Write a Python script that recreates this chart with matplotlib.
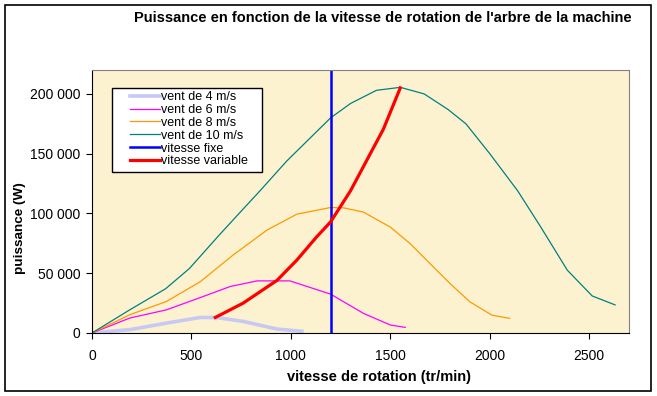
import matplotlib.pyplot as plt
from matplotlib.patches import Rectangle
from matplotlib.ticker import FuncFormatter

plt.rcParams['font.family'] = ['Liberation Sans', 'DejaVu Sans']

# Courbes (tr/min, W)
rpm_4 = [0, 190, 375, 545, 625, 760, 930, 1055]
p_4 = [0, 2800, 8300, 13000, 13000, 9700, 3300, 1400]

rpm_6 = [0, 190, 375, 560, 695, 830, 995, 1200, 1365, 1500, 1575]
p_6 = [0, 12500, 19400, 30600, 38900, 43600, 43600, 32500, 16400, 6700, 4700]

rpm_8 = [0, 190, 375, 545, 710, 880, 1030, 1200, 1265, 1365, 1500, 1600, 1700, 1800, 1900, 2010, 2100]
p_8 = [0, 15300, 26400, 43000, 65300, 86100, 99400, 105000, 104700, 101100, 88600, 74700,
       58000, 41400, 26100, 15000, 12200]

rpm_10 = [0, 190, 370, 490, 640, 745, 845, 980, 1200, 1300, 1430, 1550, 1670, 1790, 1880,
          2000, 2140, 2255, 2390, 2515, 2630]
p_10 = [0, 19400, 37000, 54000, 82000, 101000, 119000, 144000, 180000, 192000, 203000, 205500,
        200000, 187000, 175000, 150000, 119000, 89000, 52500, 31000, 23500]

rpm_var = [620, 760, 930, 1030, 1130, 1200, 1300, 1380, 1465, 1550]
p_var = [13000, 25000, 44000, 61000, 80500, 93000, 119000, 144000, 170500, 205000]

rpm_fixe = 1200

W, H = 657, 396
fig = plt.figure(figsize=(W / 100, H / 100), dpi=100)
fig.patch.set_facecolor('white')
ax = fig.add_axes([92 / W, (H - 333) / H, 537 / W, 263 / H])
ax.set_facecolor('#FCF2CF')

ax.plot(rpm_4, p_4, color='#C8C8F4', lw=2.6, label='vent de 4 m/s')
ax.plot(rpm_6, p_6, color='#FF00FF', lw=0.9, label='vent de 6 m/s')
ax.plot(rpm_8, p_8, color='#FF9900', lw=0.9, label='vent de 8 m/s')
ax.plot(rpm_10, p_10, color='#008080', lw=0.9, label='vent de 10 m/s')
ax.axvline(rpm_fixe, color='#0000FF', lw=1.8, label='vitesse fixe')
ax.plot(rpm_var, p_var, color='#FF0000', lw=2.3, label='vitesse variable')

ax.set_xlim(0, 2700)
ax.set_ylim(0, 220000)
ax.set_xticks([0, 500, 1000, 1500, 2000, 2500])
ax.set_yticks([0, 50000, 100000, 150000, 200000])
ax.yaxis.set_major_formatter(FuncFormatter(lambda v, p: f"{int(v):,}".replace(',', ' ')))
ax.tick_params(labelsize=10, direction='out', width=0.8)
ax.tick_params(axis='x', length=4, pad=7.5)
ax.tick_params(axis='y', length=4.5, pad=4)
for s in ['top', 'right']:
    ax.spines[s].set_color('#808080')
for s in ['left', 'bottom']:
    ax.spines[s].set_color('black')

ax.set_xlabel('vitesse de rotation (tr/min)', fontsize=10.5, fontweight='bold', va='center')
ax.xaxis.set_label_coords((379 - 92) / 537, (333 - 377) / 263)
ax.set_ylabel('puissance (W)', fontsize=9.7, fontweight='bold', va='center', ha='center')
ax.yaxis.set_label_coords((20 - 92) / 537, (333 - 228) / 263)

# cadre de la légende
ax.add_patch(Rectangle((20 / 537, (333 - 172) / 263), 150 / 537, 84 / 263, transform=ax.transAxes,
                       facecolor='white', edgecolor='black', lw=1.0, zorder=4))
leg = ax.legend(loc='upper left', bbox_to_anchor=(38 / 537, (333 - 91) / 263), fontsize=9,
                frameon=False, borderpad=0, labelspacing=0.07,
                handlelength=2.4, handletextpad=0.1, borderaxespad=0)
leg.set_zorder(5)

fig.text(382.5 / W, 1 - 18 / H, "Puissance en fonction de la vitesse de rotation de l'arbre de la machine",
         ha='center', va='center', fontsize=10.5, fontweight='bold')

fig.patches.append(Rectangle((5 / W, 5 / H), 646 / W, 386 / H, transform=fig.transFigure,
                             fill=False, edgecolor='black', lw=1.2))

fig.savefig('out.png', dpi=100)
